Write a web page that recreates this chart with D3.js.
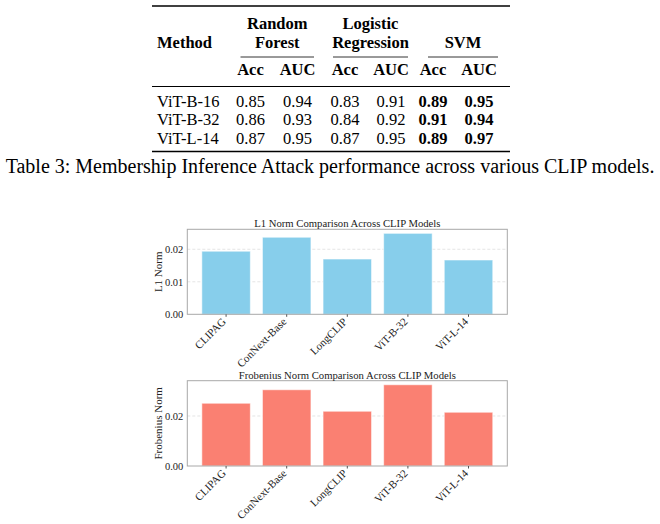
<!DOCTYPE html>
<html>
<head>
<meta charset="utf-8">
<script src="https://cdn.jsdelivr.net/npm/d3@7"></script>
<style>
  html, body { margin: 0; padding: 0; background: #fff; }
  svg { display: block; }
</style>
</head>
<body>
<div id="chart"></div>
<script>
// ---------- Data ----------
const tableMethods = ["ViT-B-16", "ViT-B-32", "ViT-L-14"];
const tableGroups = ["Random\nForest", "Logistic\nRegression", "SVM"];
const tableSubCols = ["Acc", "AUC"];
const rfAcc = [0.85, 0.86, 0.87];
const rfAuc = [0.94, 0.93, 0.95];
const lrAcc = [0.83, 0.84, 0.87];
const lrAuc = [0.91, 0.92, 0.95];
const svmAcc = [0.89, 0.91, 0.89];
const svmAuc = [0.95, 0.94, 0.97];
const caption = "Table 3: Membership Inference Attack performance across various CLIP models.";

const models = ["CLIPAG", "ConNext-Base", "LongCLIP", "ViT-B-32", "ViT-L-14"];
const l1Norm = [0.0194, 0.0237, 0.0170, 0.0249, 0.0167];
const frobNorm = [0.0251, 0.0305, 0.0219, 0.0325, 0.0215];
const l1Ticks = [0.00, 0.01, 0.02];
const frobTicks = [0.00, 0.02];

// ---------- SVG ----------
const W = 660, H = 524;
const svg = d3.select("#chart").append("svg").attr("width", W).attr("height", H);
const serif = "'Liberation Serif', 'Times New Roman', Times, serif";

// ---------- Table ----------
const tfs = 16.5;
const tbl = svg.append("g").attr("font-family", serif).attr("fill", "#000");
const tLeft = 152, tRight = 510;
const colCenters = [250.5, 297.5, 345, 391, 433, 479];
const groupRules = [[240.5, 314], [333, 408], [428, 498]];
const groupCenters = groupRules.map(r => (r[0] + r[1]) / 2);

function hrule(y, x1, x2, w) {
  tbl.append("line").attr("x1", x1).attr("x2", x2).attr("y1", y).attr("y2", y)
    .attr("stroke", "#000").attr("stroke-width", w);
}
hrule(6, tLeft, tRight, 1.6);
tbl.append("text").attr("x", 157).attr("y", 48).attr("font-size", tfs)
  .attr("font-weight", "bold").text("Method");
tableGroups.forEach((g, i) => {
  const lines = g.split("\n");
  const ys = lines.length === 2 ? [29.3, 48] : [48];
  lines.forEach((ln, j) => {
    tbl.append("text").attr("x", groupCenters[i]).attr("y", ys[j])
      .attr("text-anchor", "middle").attr("font-size", tfs).attr("font-weight", "bold").text(ln);
  });
  hrule(57, groupRules[i][0], groupRules[i][1], 0.8);
});
colCenters.forEach((cx, i) => {
  tbl.append("text").attr("x", cx).attr("y", 75).attr("text-anchor", "middle")
    .attr("font-size", tfs).attr("font-weight", "bold").text(tableSubCols[i % 2]);
});
hrule(86.5, tLeft, tRight, 1);
const cols = [rfAcc, rfAuc, lrAcc, lrAuc, svmAcc, svmAuc];
const rowY = [106.8, 125.3, 143.8];
tableMethods.forEach((m, r) => {
  tbl.append("text").attr("x", 157).attr("y", rowY[r]).attr("font-size", tfs).text(m);
  cols.forEach((c, k) => {
    tbl.append("text").attr("x", colCenters[k]).attr("y", rowY[r])
      .attr("text-anchor", "middle").attr("font-size", tfs)
      .attr("font-weight", k >= 4 ? "bold" : "normal")
      .text(c[r].toFixed(2));
  });
});
hrule(151.5, tLeft, tRight, 1.6);
svg.append("text").attr("x", 330).attr("y", 173).attr("text-anchor", "middle")
  .attr("font-family", serif).attr("font-size", 20).attr("fill", "#000").text(caption);

// ---------- Bar charts ----------
const x = d3.scaleBand().domain(models).range([187.3, 507.3])
  .paddingInner(0.2).paddingOuter(0.24);

function barChart(cfg) {
  const g = svg.append("g").attr("font-family", serif);
  const y = d3.scaleLinear().domain([0, d3.max(cfg.values) * 1.05])
    .range([cfg.bottom, cfg.top]);
  const [x0, x1] = x.range();
  // grid
  g.selectAll("line.grid").data(cfg.ticks.filter(t => t > 0)).join("line")
    .attr("x1", x0).attr("x2", x1).attr("y1", d => y(d)).attr("y2", d => y(d))
    .attr("stroke", "#d9d9d9").attr("stroke-width", 0.7).attr("stroke-dasharray", "3,2");
  // bars
  g.selectAll("rect.bar").data(models).join("rect")
    .attr("x", d => x(d)).attr("width", x.bandwidth())
    .attr("y", (d, i) => y(cfg.values[i]))
    .attr("height", (d, i) => y(0) - y(cfg.values[i]))
    .attr("fill", cfg.color)
    .attr("stroke", "#ffffff").attr("stroke-opacity", 0.55).attr("stroke-width", 1);
  // frame
  g.append("rect").attr("x", x0).attr("y", cfg.top).attr("width", x1 - x0)
    .attr("height", cfg.bottom - cfg.top).attr("fill", "none")
    .attr("stroke", "#a8a8a8").attr("stroke-width", 1);
  // y axis
  const ya = d3.axisLeft(y).tickValues(cfg.ticks).tickFormat(d3.format(".2f"))
    .tickSize(0).tickPadding(4);
  const yg = g.append("g").attr("transform", `translate(${x0},0)`).call(ya);
  yg.select(".domain").remove();
  yg.selectAll("text").attr("font-size", 10.5).attr("font-family", serif).attr("fill", "#222");
  // x axis
  const xa = d3.axisBottom(x).tickSize(2.5).tickSizeOuter(0);
  const xg = g.append("g").attr("transform", `translate(0,${cfg.bottom})`).call(xa);
  xg.select(".domain").remove();
  xg.selectAll(".tick line").attr("stroke", "#555");
  xg.selectAll("text").attr("font-size", 11).attr("font-family", serif).attr("fill", "#222")
    .attr("text-anchor", "end").attr("dy", null).attr("y", null)
    .attr("transform", "translate(0.5,8) rotate(-45)");
  // title
  g.append("text").attr("x", (x0 + x1) / 2).attr("y", cfg.top - 2)
    .attr("text-anchor", "middle").attr("font-size", 10.7).attr("fill", "#222").text(cfg.title);
  // y label
  g.append("text").attr("transform", `translate(162,${(cfg.top + cfg.bottom) / 2}) rotate(-90)`)
    .attr("text-anchor", "middle").attr("font-size", 11).attr("fill", "#222").text(cfg.ylabel);
}

barChart({ values: l1Norm, ticks: l1Ticks, top: 229.3, bottom: 314.3, color: "#87CEEB",
  title: "L1 Norm Comparison Across CLIP Models", ylabel: "L1 Norm" });
barChart({ values: frobNorm, ticks: frobTicks, top: 380.7, bottom: 466, color: "#FA8072",
  title: "Frobenius Norm Comparison Across CLIP Models", ylabel: "Frobenius Norm" });
</script>
</body>
</html>
